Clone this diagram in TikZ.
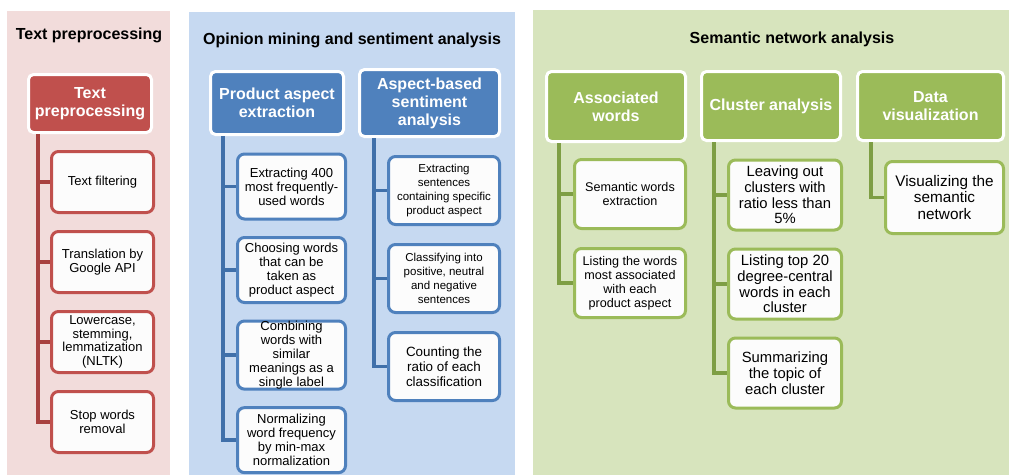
\documentclass[tikz,border=0pt]{standalone}
\usepackage{fontspec}
\setmainfont{Liberation Sans}
\usetikzlibrary{positioning}
\definecolor{redpanel}{HTML}{F2DCDB}
\definecolor{bluepanel}{HTML}{C6D9F1}
\definecolor{greenpanel}{HTML}{D7E4BD}
\definecolor{redhead}{HTML}{C0504D}
\definecolor{bluehead}{HTML}{4F81BD}
\definecolor{greenhead}{HTML}{9BBB59}
\definecolor{redlink}{HTML}{A8413F}
\definecolor{bluelink}{HTML}{4070AA}
\definecolor{greenlink}{HTML}{7E9E44}
\definecolor{paper}{HTML}{FCFCFC}
\tikzset{
  basic/.style = {draw, align=center, inner sep=0pt, line width=3pt},
  head/.style  = {basic, draw=white, rounded corners=5pt, text=white,
                  font=\bfseries\fontsize{16}{18}\selectfont},
  leaf/.style  = {basic, fill=paper, rounded corners=7pt,
                  font=\fontsize{13}{13.6}\selectfont},
  title/.style = {font=\bfseries\fontsize{16}{18}\selectfont},
  link/.style  = {line width=3.5pt}
}

\begin{document}
\begin{tikzpicture}[x=1pt, y=-1pt]
\useasboundingbox (0,0) rectangle (1011,475);

% panels
\fill[redpanel]   (7,11)   rectangle (170,475);
\fill[bluepanel]  (189,12) rectangle (515,475);
\fill[greenpanel] (533,10) rectangle (1009,475);

\node[title] (tp) at (89,35)  {Text preprocessing};
\node[title] (op) at (352,40) {Opinion mining and sentiment analysis};
\node[title] (sn) at (792,39) {Semantic network analysis};

% first level
\node[head, fill=redhead, minimum width=123pt, minimum height=58pt] (t) at (90,103.5) {Text\\preprocessing};
\node[head, fill=bluehead, minimum width=133pt, minimum height=63pt] (o1) at (277,103) {Product aspect\\extraction};
\node[head, fill=bluehead, minimum width=140pt, minimum height=67pt] (o2) at (429.5,103) {Aspect-based\\sentiment\\analysis};
\node[head, fill=greenhead, minimum width=139pt, minimum height=70pt] (s1) at (616,106.5) {Associated\\words};
\node[head, fill=greenhead, minimum width=139pt, minimum height=69pt] (s2) at (771,106) {Cluster analysis};
\node[head, fill=greenhead, minimum width=146pt, minimum height=69pt] (s3) at (930.5,106) {Data\\visualization};

% second level, stacked under each header
\begin{scope}[every node/.style={leaf, draw=redhead, minimum width=102pt, minimum height=61pt}, node distance=16pt]
\node at (102.5,182) (t1) {Text filtering};
\node [below=of t1] (t2) {Translation by\\Google API};
\node [below=of t2] (t3) {Lowercase,\\stemming,\\lemmatization\\(NLTK)};
\node [below=of t3] (t4) {Stop words\\removal};
\end{scope}

\begin{scope}[every node/.style={leaf, draw=bluehead, minimum width=108pt, minimum height=65pt, font=\fontsize{13}{14}\selectfont}, node distance=15.5pt]
\node at (291.5,186.5) (o11) {Extracting 400\\most frequently-\\used words};
\node [below=of o11] (o12) {Choosing words\\that can be\\taken as\\product aspect};
\node [below=of o12] (o13) {Combining\\words with\\similar\\meanings as a\\single label};
\node [below=of o13] (o14) {Normalizing\\word frequency\\by min-max\\normalization};
\end{scope}

\begin{scope}[every node/.style={leaf, draw=bluehead, minimum width=111pt, minimum height=68pt, font=\fontsize{11.5}{14}\selectfont}, node distance=17pt]
\node at (444,190.5) (o21) {Extracting\\sentences\\containing specific\\product aspect};
\node [below=of o21] (o22) {Classifying into\\positive, neutral\\and negative\\sentences};
\node [below=of o22, font=\fontsize{13.4}{15}\selectfont] (o23) {Counting the\\ratio of each\\classification};
\end{scope}

\begin{scope}[every node/.style={leaf, draw=greenhead, minimum width=111pt, minimum height=69pt, font=\fontsize{12.6}{14}\selectfont}, node distance=17pt]
\node at (630,194) (s11) {Semantic words\\extraction};
\node [below=of s11] (s12) {Listing the words\\most associated\\with each\\product aspect};
\end{scope}

\begin{scope}[every node/.style={leaf, draw=greenhead, minimum width=113pt, minimum height=70pt, font=\fontsize{14.8}{15.7}\selectfont}, node distance=16pt]
\node at (785,195) (s21) {Leaving out\\clusters with\\ratio less than\\5\%};
\node [below=of s21] (s22) {Listing top 20\\degree-central\\words in each\\cluster};
\node [below=of s22] (s23) {Summarizing\\the topic of\\each cluster};
\node [minimum width=118pt, minimum height=72pt, font=\fontsize{15.3}{16.5}\selectfont] at (944.5,197.5) (s31) {Visualizing the\\semantic\\network};
\end{scope}

% connectors
\foreach \value in {1,...,4}
  \draw[link, redlink] ([xshift=11pt]t.south west) |- (t\value.west);

\foreach \value in {1,...,4}
  \draw[link, bluelink] ([xshift=14pt]o1.south west) |- (o1\value.west);

\foreach \value in {1,...,3}
  \draw[link, bluelink] ([xshift=16pt]o2.south west) |- (o2\value.west);

\foreach \value in {1,2}
  \draw[link, greenlink] ([xshift=14pt]s1.south west) |- (s1\value.west);

\foreach \value in {1,...,3}
  \draw[link, greenlink] ([xshift=14pt]s2.south west) |- (s2\value.west);

\draw[link, greenlink] ([xshift=15pt]s3.south west) |- (s31.west);
\end{tikzpicture}
\end{document}
